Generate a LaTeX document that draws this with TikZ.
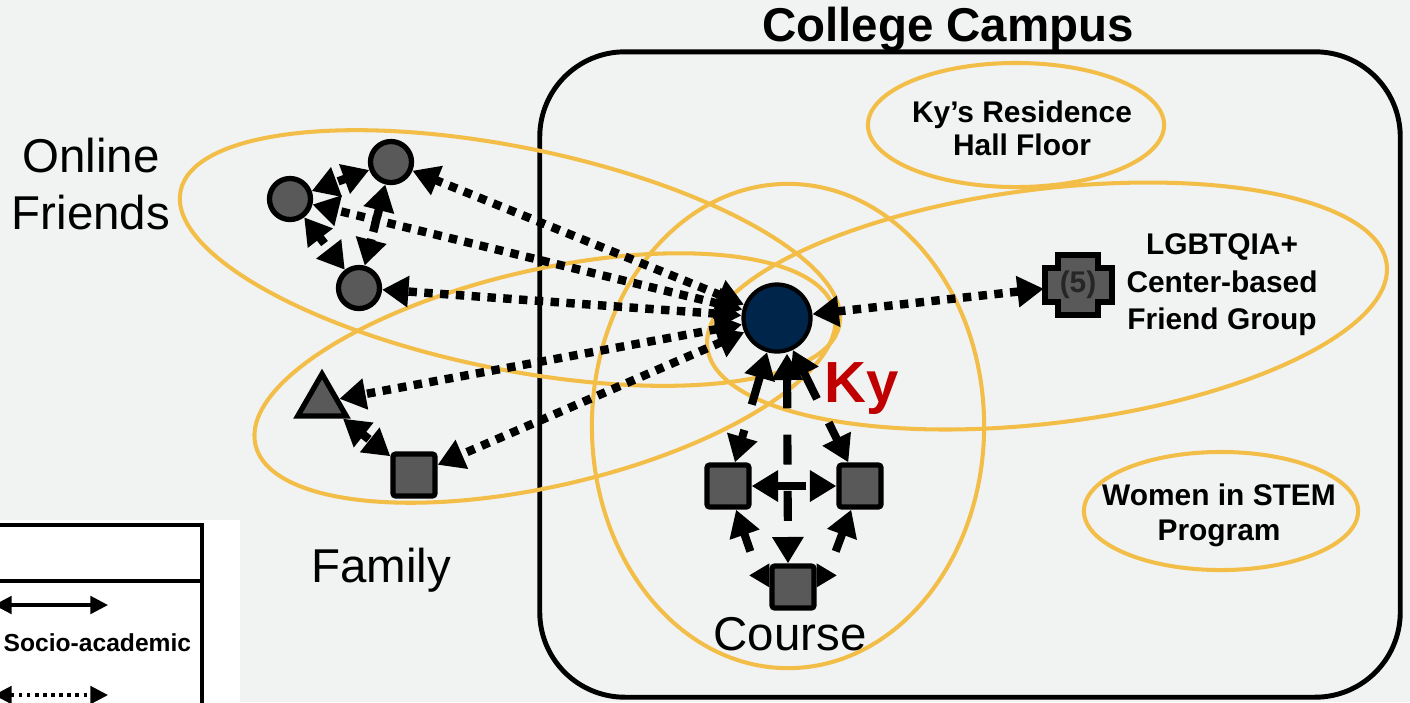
\documentclass[tikz,border=0pt]{standalone}
\usepackage{fontspec}
\setmainfont{Liberation Sans}
\usetikzlibrary{arrows.meta,shapes.geometric}

\definecolor{bggray}{RGB}{241,242,242}
\definecolor{groupgold}{RGB}{242,190,72}
\definecolor{nodegray}{RGB}{89,89,89}
\definecolor{kyblue}{RGB}{0,37,75}
\definecolor{kyred}{RGB}{192,0,0}

\tikzstyle{group}=[ellipse,draw=groupgold,line width=1.15pt,inner sep=0pt]
\tikzstyle{friend}=[circle,draw=black,line width=1.5pt,fill=nodegray,minimum size=0.41cm,inner sep=0pt]
\tikzstyle{member}=[rectangle,draw=black,line width=1.5pt,fill=nodegray,minimum size=0.42cm,inner sep=0pt,rounded corners=0.8pt]
\tikzstyle{kin}=[regular polygon,regular polygon sides=3,draw=black,line width=1.5pt,fill=nodegray,minimum size=0.56cm,inner sep=0pt]
\tikzstyle{social}=[line width=2.4pt,dash pattern=on 2.4pt off 2.1pt,<->]
\tikzstyle{academic}=[line width=2.3pt,dash pattern=on 8.5pt off 7.5pt,<->]
\tikzstyle{socioacad}=[line width=2.3pt,->]
\tikzstyle{grouplabel}=[align=center,inner sep=0pt]
\tikzstyle{biglabel}=[font=\fontsize{13.5}{16}\selectfont,align=center,inner sep=0pt]

\begin{document}
\begin{tikzpicture}[x=0.01cm,y=-0.01cm,>={Triangle[length=7.5pt,width=8.5pt]}]
  \useasboundingbox (0,0) rectangle (1410,702);
  \clip (0,0) rectangle (1410,702);
  \fill[bggray] (0,0) rectangle (1410,702);

  % legend (cut by the left edge)
  \fill[white] (0,520) rectangle (240,702);
  \draw[line width=1.4pt,fill=white] (-20,525) rectangle (202,760);
  \coordinate (legend left) at (-20,581);
  \coordinate (legend right) at (202,581);
  \draw[line width=1pt] (legend left) -- (legend right);
  \coordinate (solid from) at (-6,605);
  \coordinate (solid to) at (108,605);
  \draw[line width=0.9pt,{Triangle[length=5pt,width=5pt]}-{Triangle[length=5pt,width=5pt]}] (solid from) -- (solid to);
  \node[anchor=base west,inner sep=0pt,font=\bfseries\fontsize{7}{8}\selectfont] (socio label) at (3,651) {Socio-academic};
  \coordinate (dotted from) at (-6,695);
  \coordinate (dotted to) at (108,695);
  \draw[line width=0.9pt,dash pattern=on 1pt off 1.3pt,{Triangle[length=5pt,width=5pt]}-{Triangle[length=5pt,width=5pt]}] (dotted from) -- (dotted to);

  % campus
  \node[draw,line width=1.4pt,rounded corners=0.85cm,minimum width=8.6cm,minimum height=6.45cm] (campus) at (970,374.5) {};
  \node[anchor=base,inner sep=0pt,font=\bfseries\fontsize{13.5}{16}\selectfont] (campus title) at (948,41) {College Campus};

  % groups
  \node[group,minimum width=6.72cm,minimum height=2.22cm,rotate=-11.5] (online) at (510,258) {};
  \node[group,minimum width=5.94cm,minimum height=2.16cm,rotate=13] (family) at (545,378) {};
  \node[group,minimum width=3.92cm,minimum height=4.84cm] (course) at (788,426) {};
  \node[group,minimum width=6.84cm,minimum height=2.34cm,rotate=7] (lgbt group) at (1047,306) {};
  \node[group,minimum width=2.96cm,minimum height=1.24cm] (residence) at (1016,125) {};
  \node[group,minimum width=2.74cm,minimum height=1.18cm] (stem) at (1221,511) {};

  \node[biglabel] (online label) at (91,184) {Online\\Friends};
  \node[biglabel,anchor=base] (family label) at (381,582) {Family};
  \node[biglabel,anchor=base] (course label) at (790,650) {Course};
  \node[grouplabel,font=\bfseries\fontsize{8.5}{9.4}\selectfont] (residence label) at (1022,128) {Ky’s Residence\\Hall Floor};
  \node[grouplabel,font=\bfseries\fontsize{8.5}{10.7}\selectfont] (lgbt label) at (1222,285) {LGBTQIA+\\Center-based\\Friend Group};
  \node[grouplabel,font=\bfseries\fontsize{8.5}{10}\selectfont] (stem label) at (1219,515) {Women in STEM\\Program};

  % people
  \node[circle,draw=black,line width=1.2pt,fill=kyblue,minimum size=0.67cm,inner sep=0pt] (ky) at (777,318) {};
  \node[anchor=base,inner sep=0pt,text=kyred,font=\bfseries\fontsize{16.5}{18}\selectfont] (ky label) at (862,402) {Ky};

  \node[friend] (o1) at (391,162) {};
  \node[friend] (o2) at (290,199) {};
  \node[friend] (o3) at (359,288) {};
  \node[kin] (tri) at (322,402) {};
  \node[member] (fsq) at (414,475) {};
  \node[member] (cL) at (728,486) {};
  \node[member] (cR) at (860,486) {};
  \node[member] (cB) at (793,587) {};

  \draw[line width=1.5pt,fill=nodegray] (1058,255) -- ++(40,0) -- ++(0,13) -- ++(14,0) -- ++(0,34) -- ++(-14,0)
    -- ++(0,13) -- ++(-40,0) -- ++(0,-13) -- ++(-13,0) -- ++(0,-34) -- ++(13,0) -- cycle;
  \node[inner sep=0pt,minimum width=0.67cm,minimum height=0.60cm,text=black!85,font=\bfseries\fontsize{8.5}{10}\selectfont] (lgbt) at (1078,285) {(5)};

  % ties
  \foreach \target in {o1,o2,o3,tri,fsq} {
    \draw[social] (ky) -- (\target);
  }
  \draw[social] (ky) -- (lgbt);
  \draw[social] (o1) -- (o2);
  \draw[social] (o1) -- (o3);
  \draw[social] (o2) -- (o3);
  \draw[social] (tri) -- (fsq);

  \draw[academic] (ky) -- (cL);
  \draw[academic] (ky) -- (cR);
  \draw[academic] ([xshift=0.1cm]ky.south) -- ([xshift=-0.05cm]cB.north);
  \draw[academic] (cL) -- (cR);

  \draw[socioacad] ([xshift=-0.19cm,yshift=0.12cm]cB.north west) -- (cL);
  \draw[socioacad] ([xshift=0.19cm,yshift=0.12cm]cB.north east) -- (cR);
  \fill (cB.north west) -- ++(0,24) -- ++(-20,-12) -- cycle;
  \fill (cB.north east) -- ++(0,24) -- ++(20,-12) -- cycle;
\end{tikzpicture}
\end{document}
